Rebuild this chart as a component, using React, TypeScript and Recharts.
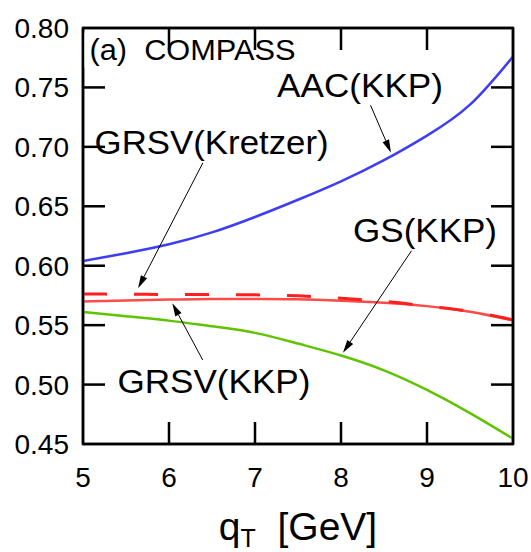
import { LineChart, Line, XAxis, YAxis, ReferenceLine, ReferenceDot, ReferenceArea } from 'recharts';

const qT = [5, 5.5, 6, 6.5, 7, 7.5, 8, 8.5, 9, 9.5, 10];
const aacKKP = [0.604, 0.6105, 0.618, 0.628, 0.641, 0.6555, 0.671, 0.6888, 0.7095, 0.7355, 0.776];
const grsvKretzer = [0.5762, 0.576, 0.5758, 0.5757, 0.5755, 0.5747, 0.5726, 0.57, 0.566, 0.5615, 0.5545];
const grsvKKP = [0.5698, 0.5708, 0.5715, 0.572, 0.572, 0.5718, 0.5706, 0.5688, 0.566, 0.5612, 0.554];
const gsKKP = [0.561, 0.5575, 0.5538, 0.549, 0.5435, 0.5345, 0.5245, 0.512, 0.4955, 0.476, 0.4545];

const xTicks = [5, 6, 7, 8, 9, 10];
const yTicks = [0.45, 0.5, 0.55, 0.6, 0.65, 0.7, 0.75, 0.8];

const rows = qT.map((q, i) => ({
  q,
  aac: aacKKP[i],
  kretzer: grsvKretzer[i],
  grsv: grsvKKP[i],
  gs: gsKKP[i],
}));

const FONT = '"Liberation Sans", Arial, Helvetica, sans-serif';
const X0 = 5;
const X1 = 10;
const Y0 = 0.45;
const Y1 = 0.8;
const TICK = 22;
const LW = 2.5;
const X_GAP = 23;
const Y_GAP = 14;

// label anchors (left edge, baseline) in data units
const labels = [
  { text: '(a)  COMPASS', x: 5.076, y: 0.7731, size: 30, width: 206 },
  { text: 'AAC(KKP)', x: 7.256, y: 0.7422, size: 34, width: 166 },
  { text: 'GRSV(Kretzer)', x: 5.135, y: 0.694, size: 34, width: 234 },
  { text: 'GS(KKP)', x: 8.14, y: 0.6202, size: 34, width: 144 },
  { text: 'GRSV(KKP)', x: 5.4, y: 0.4927, size: 34, width: 193 },
];

const arrows = [
  { from: { x: 8.337, y: 0.7361 }, to: { x: 8.581, y: 0.6951 } },
  { from: { x: 6.395, y: 0.6867 }, to: { x: 5.64, y: 0.581 } },
  { from: { x: 8.82, y: 0.6126 }, to: { x: 8.023, y: 0.5268 } },
  { from: { x: 6.392, y: 0.5207 }, to: { x: 6.038, y: 0.5684 } },
];

const isEnd = (v: number, lo: number, hi: number) => Math.abs(v - lo) < 1e-9 || Math.abs(v - hi) < 1e-9;

// tick renderers: label plus an inward tick bar
const BottomTick = (p: any) => {
  const v = p.payload.value;
  const base = p.y - X_GAP;
  return (
    <g>
      {!isEnd(v, X0, X1) && <rect x={p.x - LW / 2} y={base - TICK} width={LW} height={TICK} fill="#000" />}
      <text x={p.x} y={p.y} dy="0.71em" textAnchor="middle" fontSize={28} fontFamily={FONT} fill="#000">
        {v}
      </text>
    </g>
  );
};

const LeftTick = (p: any) => {
  const v = p.payload.value;
  const base = p.x + Y_GAP;
  return (
    <g>
      {!isEnd(v, Y0, Y1) && <rect x={base} y={p.y - LW / 2} width={TICK} height={LW} fill="#000" />}
      <text x={p.x} y={p.y} dy="0.355em" textAnchor="end" fontSize={28} fontFamily={FONT} fill="#000">
        {Number(v).toFixed(2)}
      </text>
    </g>
  );
};

const TopTick = (p: any) => {
  const v = p.payload.value;
  if (isEnd(v, X0, X1)) return <g />;
  return <rect x={p.x - LW / 2} y={p.y} width={LW} height={TICK} fill="#000" />;
};

const RightTick = (p: any) => {
  const v = p.payload.value;
  if (isEnd(v, Y0, Y1)) return <g />;
  return <rect x={p.x - TICK} y={p.y - LW / 2} width={TICK} height={LW} fill="#000" />;
};

const Frame = (props: any) => {
  const { x, y, width, height } = props;
  return <rect x={x} y={y} width={width} height={height} fill="none" stroke="#000" strokeWidth={LW} />;
};

const Arrow = (props: any) => {
  const { x1, y1, x2, y2 } = props;
  const a = Math.atan2(y2 - y1, x2 - x1);
  const len = 13;
  const half = 3.5;
  const bx = x2 - len * Math.cos(a);
  const by = y2 - len * Math.sin(a);
  const pts = [
    [x2, y2],
    [bx + half * Math.sin(a), by - half * Math.cos(a)],
    [bx - half * Math.sin(a), by + half * Math.cos(a)],
  ]
    .map((p) => p.join(','))
    .join(' ');
  return (
    <g>
      <line x1={x1} y1={y1} x2={bx} y2={by} stroke="#000" strokeWidth={1} />
      <polygon points={pts} fill="#000" />
    </g>
  );
};

const boxLabel = (text: string, size: number, width: number) => (p: any) => (
  <g>
    <rect x={p.cx - 5} y={p.cy - size * 0.9} width={width + 9} height={size * 1.15} fill="#fff" />
    <text
      x={p.cx}
      y={p.cy}
      fontSize={size}
      fontFamily={FONT}
      fill="#000"
      textLength={width}
      lengthAdjust="spacingAndGlyphs"
      style={{ whiteSpace: 'pre' }}
    >
      {text}
    </text>
  </g>
);

const AxisTitle = (props: any) => {
  const vb = props.viewBox;
  const cx = vb.x + vb.width / 2;
  return (
    <text x={cx} y={vb.y + 96} textAnchor="middle" fontFamily={FONT} fontSize={39} fill="#000" style={{ whiteSpace: 'pre' }}>
      <tspan>q</tspan>
      <tspan fontSize={25} dy={7}>T</tspan>
      <tspan dy={-7}>{'  [GeV]'}</tspan>
    </text>
  );
};

const axisStyle = { stroke: '#000', strokeWidth: LW };

export default function App() {
  return (
    <div style={{ position: 'absolute', left: 0, top: 0, background: '#fff' }}>
      <LineChart width={531} height={552} data={rows} margin={{ top: 0, right: 0, bottom: 0, left: 0 }}>
        <XAxis
          dataKey="q"
          type="number"
          domain={[X0, X1]}
          ticks={xTicks}
          interval={0}
          allowDataOverflow
          height={108}
          tickLine={false}
          tickSize={0}
          tickMargin={X_GAP}
          axisLine={axisStyle}
          tick={<BottomTick />}
          label={<AxisTitle />}
        />
        <XAxis
          xAxisId="top"
          orientation="top"
          dataKey="q"
          type="number"
          domain={[X0, X1]}
          ticks={xTicks}
          interval={0}
          allowDataOverflow
          height={28}
          tickLine={false}
          tickSize={0}
          tickMargin={0}
          axisLine={axisStyle}
          tick={<TopTick />}
        />
        <YAxis
          type="number"
          domain={[Y0, Y1]}
          ticks={yTicks}
          interval={0}
          allowDataOverflow
          width={83}
          tickLine={false}
          tickSize={0}
          tickMargin={Y_GAP}
          axisLine={axisStyle}
          tick={<LeftTick />}
        />
        <YAxis
          yAxisId="right"
          orientation="right"
          type="number"
          domain={[Y0, Y1]}
          ticks={yTicks}
          interval={0}
          allowDataOverflow
          width={18}
          tickLine={false}
          tickSize={0}
          tickMargin={0}
          axisLine={axisStyle}
          tick={<RightTick />}
        />
        <ReferenceArea x1={X0} x2={X1} y1={Y0} y2={Y1} fillOpacity={0} shape={Frame} />
        <Line type="natural" dataKey="aac" stroke="#3d3df5" strokeWidth={2.5} dot={false} isAnimationActive={false} />
        <Line type="natural" dataKey="gs" stroke="#5ec400" strokeWidth={2.5} dot={false} isAnimationActive={false} />
        <Line type="natural" dataKey="grsv" stroke="#ff4a4a" strokeWidth={2.5} dot={false} isAnimationActive={false} />
        <Line
          type="natural"
          dataKey="kretzer"
          stroke="#ff1f1f"
          strokeWidth={3}
          strokeDasharray="24 27"
          dot={false}
          isAnimationActive={false}
        />
        {labels.map((l) => (
          <ReferenceDot key={l.text} x={l.x} y={l.y} r={0} shape={boxLabel(l.text, l.size, l.width)} />
        ))}
        {arrows.map((a, i) => (
          <ReferenceLine key={`a${i}`} segment={[a.from, a.to]} shape={Arrow} />
        ))}
      </LineChart>
    </div>
  );
}
